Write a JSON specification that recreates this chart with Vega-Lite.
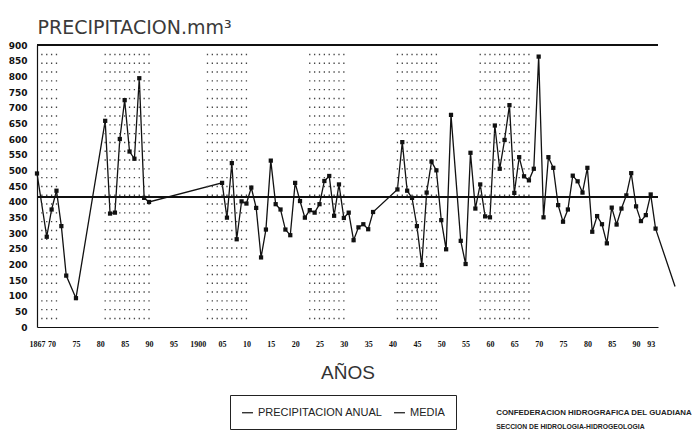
{
  "$schema": "https://vega.github.io/schema/vega-lite/v6.json",
  "width": 621,
  "height": 282,
  "autosize": {"type": "none"},
  "padding": {"left": 37, "top": 45, "right": 41, "bottom": 119},
  "background": "white",
  "config": {
    "view": {"stroke": null},
    "font": "Liberation Sans",
    "axis": {"labelOverlap": false, "labelBound": false, "tickCount": 200, "ticks": false, "grid": false, "domainColor": "#111", "domainWidth": 1.2, "labelColor": "#111", "labelFontWeight": "bold"},
    "axisX": {"labelFont": "Liberation Sans Narrow", "labelFontSize": 8, "labelPadding": 13, "labelFlush": false},
    "axisY": {"labelFont": "DejaVu Sans", "labelFontSize": 9, "labelPadding": 10}
  },
  "title": {
    "text": "CONFEDERACION HIDROGRAFICA DEL GUADIANA",
    "subtitle": "SECCION DE HIDROLOGIA-HIDROGEOLOGIA",
    "orient": "bottom",
    "anchor": "start",
    "align": "left",
    "dx": 488,
    "offset": -21,
    "fontSize": 7.9,
    "fontWeight": "bold",
    "font": "Liberation Sans",
    "color": "#222",
    "subtitleFont": "Liberation Sans",
    "subtitleFontSize": 6.8,
    "subtitleFontWeight": "bold",
    "subtitleColor": "#222",
    "subtitlePadding": 8
  },
  "datasets": {
    "precip": [
      {"anio": 1867, "mm": 490}, {"anio": 1869, "mm": 288}, {"anio": 1870, "mm": 375}, {"anio": 1871, "mm": 435},
      {"anio": 1872, "mm": 322}, {"anio": 1873, "mm": 164}, {"anio": 1875, "mm": 92},
      {"anio": 1881, "mm": 658}, {"anio": 1882, "mm": 362}, {"anio": 1883, "mm": 365}, {"anio": 1884, "mm": 600},
      {"anio": 1885, "mm": 724}, {"anio": 1886, "mm": 560}, {"anio": 1887, "mm": 537}, {"anio": 1888, "mm": 794},
      {"anio": 1889, "mm": 412}, {"anio": 1890, "mm": 399},
      {"anio": 1905, "mm": 460}, {"anio": 1906, "mm": 349}, {"anio": 1907, "mm": 523}, {"anio": 1908, "mm": 280},
      {"anio": 1909, "mm": 401}, {"anio": 1910, "mm": 394}, {"anio": 1911, "mm": 445}, {"anio": 1912, "mm": 380},
      {"anio": 1913, "mm": 222}, {"anio": 1914, "mm": 311}, {"anio": 1915, "mm": 531}, {"anio": 1916, "mm": 392},
      {"anio": 1917, "mm": 375}, {"anio": 1918, "mm": 311}, {"anio": 1919, "mm": 293}, {"anio": 1920, "mm": 460},
      {"anio": 1921, "mm": 402}, {"anio": 1922, "mm": 349}, {"anio": 1923, "mm": 373}, {"anio": 1924, "mm": 365},
      {"anio": 1925, "mm": 392}, {"anio": 1926, "mm": 466}, {"anio": 1927, "mm": 482}, {"anio": 1928, "mm": 355},
      {"anio": 1929, "mm": 455}, {"anio": 1930, "mm": 348}, {"anio": 1931, "mm": 365}, {"anio": 1932, "mm": 277},
      {"anio": 1933, "mm": 318}, {"anio": 1934, "mm": 328}, {"anio": 1935, "mm": 312}, {"anio": 1936, "mm": 367},
      {"anio": 1941, "mm": 439}, {"anio": 1942, "mm": 590}, {"anio": 1943, "mm": 435}, {"anio": 1944, "mm": 412},
      {"anio": 1945, "mm": 322}, {"anio": 1946, "mm": 198}, {"anio": 1947, "mm": 429}, {"anio": 1948, "mm": 528},
      {"anio": 1949, "mm": 500}, {"anio": 1950, "mm": 341}, {"anio": 1951, "mm": 248}, {"anio": 1952, "mm": 677},
      {"anio": 1954, "mm": 275}, {"anio": 1955, "mm": 201}, {"anio": 1956, "mm": 556}, {"anio": 1957, "mm": 378},
      {"anio": 1958, "mm": 455}, {"anio": 1959, "mm": 353}, {"anio": 1960, "mm": 350}, {"anio": 1961, "mm": 643},
      {"anio": 1962, "mm": 505}, {"anio": 1963, "mm": 597}, {"anio": 1964, "mm": 708}, {"anio": 1965, "mm": 428},
      {"anio": 1966, "mm": 542}, {"anio": 1967, "mm": 481}, {"anio": 1968, "mm": 468}, {"anio": 1969, "mm": 505},
      {"anio": 1970, "mm": 863}, {"anio": 1971, "mm": 350}, {"anio": 1972, "mm": 542}, {"anio": 1973, "mm": 508},
      {"anio": 1974, "mm": 389}, {"anio": 1975, "mm": 336}, {"anio": 1976, "mm": 375}, {"anio": 1977, "mm": 483},
      {"anio": 1978, "mm": 465}, {"anio": 1979, "mm": 429}, {"anio": 1980, "mm": 508}, {"anio": 1981, "mm": 304},
      {"anio": 1982, "mm": 354}, {"anio": 1983, "mm": 328}, {"anio": 1984, "mm": 267}, {"anio": 1985, "mm": 381},
      {"anio": 1986, "mm": 327}, {"anio": 1987, "mm": 378}, {"anio": 1988, "mm": 420}, {"anio": 1989, "mm": 491},
      {"anio": 1990, "mm": 385}, {"anio": 1991, "mm": 338}, {"anio": 1992, "mm": 357}, {"anio": 1993, "mm": 423},
      {"anio": 1994, "mm": 314}, {"anio": 1998, "mm": 129}
    ],
    "periodos": [
      {"anio": 1868}, {"anio": 1869}, {"anio": 1870}, {"anio": 1871},
      {"anio": 1881}, {"anio": 1882}, {"anio": 1883}, {"anio": 1884}, {"anio": 1885}, {"anio": 1886}, {"anio": 1887}, {"anio": 1888}, {"anio": 1889}, {"anio": 1890},
      {"anio": 1902}, {"anio": 1903}, {"anio": 1904}, {"anio": 1905}, {"anio": 1906}, {"anio": 1907}, {"anio": 1908}, {"anio": 1909}, {"anio": 1910},
      {"anio": 1923}, {"anio": 1924}, {"anio": 1925}, {"anio": 1926}, {"anio": 1927}, {"anio": 1928}, {"anio": 1929}, {"anio": 1930},
      {"anio": 1941}, {"anio": 1942}, {"anio": 1943}, {"anio": 1944}, {"anio": 1945}, {"anio": 1946}, {"anio": 1947}, {"anio": 1948}, {"anio": 1949},
      {"anio": 1958}, {"anio": 1959}, {"anio": 1960}, {"anio": 1961}, {"anio": 1962}, {"anio": 1963}, {"anio": 1964}, {"anio": 1965}, {"anio": 1966}, {"anio": 1967}, {"anio": 1968}
    ]
  },
  "layer": [
    {
      "data": {"name": "precip"},
      "mark": {"type": "line", "strokeWidth": 1.3},
      "encoding": {
        "x": {
          "field": "anio",
          "type": "quantitative",
          "scale": {"domain": [1867, 1994.5], "nice": false, "zero": false},
          "axis": {
            "title": "AÑOS",
            "titleFont": "Liberation Sans",
            "titleFontSize": 19,
            "titleFontWeight": "normal",
            "titleColor": "#333",
            "titleBaseline": "middle",
            "titleY": 45,
            "tickCount": 200,
            "values": [1867, 1870, 1875, 1880, 1885, 1890, 1895, 1900, 1905, 1910, 1915, 1920, 1925, 1930, 1935, 1940, 1945, 1950, 1955, 1960, 1965, 1970, 1975, 1980, 1985, 1990, 1993],
            "labelExpr": "datum.value == 1867 || datum.value == 1900 ? '' + datum.value : (datum.value % 100 < 10 ? '0' + (datum.value % 100) : '' + (datum.value % 100))",
            "labelOverlap": false
          }
        },
        "y": {
          "field": "mm",
          "type": "quantitative",
          "scale": {"domain": [0, 900], "nice": false},
          "axis": {
            "title": "PRECIPITACION.mm³",
            "titleAngle": 0,
            "titleAlign": "left",
            "titleBaseline": "alphabetic",
            "titleX": 0,
            "titleY": -12,
            "titleFont": "DejaVu Sans",
            "titleFontSize": 19,
            "titleFontWeight": "normal",
            "titleColor": "#3a3a3a",
            "tickCount": 200,
            "values": [0, 50, 100, 150, 200, 250, 300, 350, 400, 450, 500, 550, 600, 650, 700, 750, 800, 850, 900],
            "labelOverlap": false
          }
        },
        "color": {
          "datum": "PRECIPITACION ANUAL",
          "type": "nominal",
          "scale": {"domain": ["PRECIPITACION ANUAL", "MEDIA"], "range": ["#111111", "#111111"]},
          "legend": {
            "orient": "none",
            "legendX": 193,
            "legendY": 350,
            "direction": "horizontal",
            "title": null,
            "strokeColor": "#222",
            "padding": 11,
            "symbolType": "stroke",
            "symbolSize": 120,
            "symbolStrokeWidth": 1.2,
            "labelFont": "Liberation Sans",
            "labelFontSize": 11,
            "labelColor": "#222",
            "columnPadding": 8
          }
        }
      }
    },
    {
      "data": {"name": "periodos"},
      "mark": {"type": "rule", "color": "#444", "strokeWidth": 1.3, "strokeDash": [1.4, 7.4]},
      "encoding": {
        "x": {"field": "anio", "type": "quantitative"},
        "y": {"datum": 872, "type": "quantitative"},
        "y2": {"datum": 12}
      }
    },
    {
      "data": {"name": "precip"},
      "mark": {"type": "rule", "color": "#111", "strokeWidth": 1},
      "encoding": {"y": {"datum": 900, "type": "quantitative"}}
    },
    {
      "data": {"name": "precip"},
      "mark": {"type": "rule", "strokeWidth": 1.2},
      "encoding": {
        "y": {"datum": 415, "type": "quantitative"},
        "color": {"datum": "MEDIA", "type": "nominal"}
      }
    },
    {
      "data": {"name": "precip"},
      "transform": [{"filter": "datum.anio <= 1994"}],
      "mark": {"type": "point", "shape": "square", "filled": true, "size": 18, "color": "#111", "opacity": 1},
      "encoding": {
        "x": {"field": "anio", "type": "quantitative"},
        "y": {"field": "mm", "type": "quantitative"}
      }
    }
  ]
}
